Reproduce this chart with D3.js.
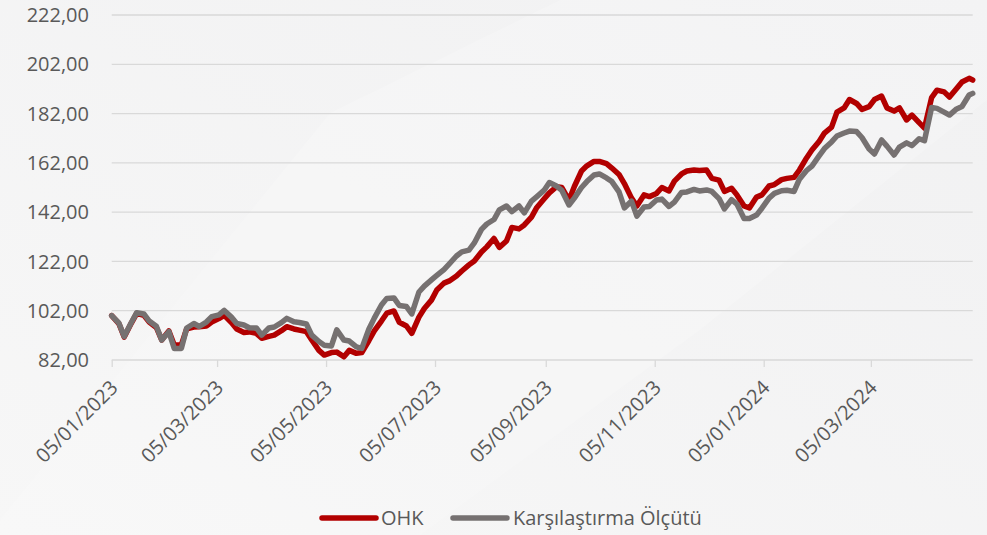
<!DOCTYPE html>
<html>
<head>
<meta charset="utf-8">
<script src="https://cdn.jsdelivr.net/npm/d3@7"></script>
<style>
    body { margin: 0; background: #f4f4f5; }
    svg { display: block; font-family: 'Open Sans', sans-serif; }
</style>
</head>
<body>
<div id="chart"></div>
<script>
// semi-weekly readings (Mon / Thu) taken off the reference chart
const dates = [
    '2023-01-05','2023-01-09','2023-01-12','2023-01-16','2023-01-19','2023-01-23','2023-01-26','2023-01-30',
    '2023-02-02','2023-02-06','2023-02-09','2023-02-13','2023-02-16','2023-02-20','2023-02-23','2023-02-27',
    '2023-03-02','2023-03-06','2023-03-09','2023-03-13','2023-03-16','2023-03-20','2023-03-23','2023-03-27',
    '2023-03-30','2023-04-03','2023-04-06','2023-04-10','2023-04-13','2023-04-17','2023-04-20','2023-04-24',
    '2023-04-27','2023-05-01','2023-05-04','2023-05-08','2023-05-11','2023-05-15','2023-05-18','2023-05-22',
    '2023-05-25','2023-05-29','2023-06-01','2023-06-05','2023-06-08','2023-06-12','2023-06-15','2023-06-19',
    '2023-06-22','2023-06-26','2023-06-29','2023-07-03','2023-07-06','2023-07-10','2023-07-13','2023-07-17',
    '2023-07-20','2023-07-24','2023-07-27','2023-07-31','2023-08-03','2023-08-07','2023-08-10','2023-08-14',
    '2023-08-17','2023-08-21','2023-08-24','2023-08-28','2023-08-31','2023-09-04','2023-09-07','2023-09-11',
    '2023-09-14','2023-09-18','2023-09-21','2023-09-25','2023-09-28','2023-10-02','2023-10-05','2023-10-09',
    '2023-10-12','2023-10-16','2023-10-19','2023-10-23','2023-10-26','2023-10-30','2023-11-02','2023-11-06',
    '2023-11-09','2023-11-13','2023-11-16','2023-11-20','2023-11-23','2023-11-27','2023-11-30','2023-12-04',
    '2023-12-07','2023-12-11','2023-12-14','2023-12-18','2023-12-21','2023-12-25','2023-12-28','2024-01-01',
    '2024-01-04','2024-01-08','2024-01-11','2024-01-15','2024-01-18','2024-01-22','2024-01-25','2024-01-29',
    '2024-02-01','2024-02-05','2024-02-08','2024-02-12','2024-02-15','2024-02-19','2024-02-22','2024-02-26',
    '2024-02-29','2024-03-04','2024-03-07','2024-03-11','2024-03-14','2024-03-18','2024-03-21','2024-03-25',
    '2024-03-28','2024-04-01','2024-04-04','2024-04-08','2024-04-11','2024-04-15','2024-04-18','2024-04-22',
    '2024-04-25','2024-04-29','2024-05-01'
];

const ohk = [
    100.0, 96.8, 91.3, 97.0, 100.9, 100.1, 97.4, 95.2,
    90.1, 93.8, 88.1, 88.1, 94.7, 95.4, 95.5, 95.8,
    97.4, 98.8, 100.1, 97.2, 94.6, 93.2, 93.4, 92.8,
    90.8, 91.6, 92.1, 93.9, 95.5, 94.6, 94.1, 93.5,
    90.1, 85.9, 84.0, 85.0, 85.2, 83.3, 85.9, 84.7,
    85.0, 89.9, 93.8, 97.8, 101.0, 101.9, 97.3, 95.8,
    92.8, 99.4, 102.9, 106.3, 110.4, 113.2, 114.1, 116.1,
    118.1, 120.6, 122.2, 125.8, 127.9, 131.3, 127.7, 130.3,
    135.8, 135.2, 136.8, 140.0, 143.9, 147.3, 149.8, 152.3,
    152.0, 146.9, 152.4, 158.7, 160.8, 162.6, 162.6, 161.7,
    159.9, 157.3, 153.6, 147.7, 144.5, 149.0, 148.3, 149.6,
    152.0, 150.6, 154.6, 157.5, 158.7, 159.1, 158.9, 159.1,
    155.7, 155.0, 150.4, 151.7, 149.0, 144.5, 143.7, 148.1,
    149.0, 152.6, 153.2, 155.2, 155.7, 156.1, 159.1, 164.0,
    167.2, 170.7, 174.1, 176.5, 182.6, 184.3, 187.7, 186.1,
    183.7, 184.8, 187.7, 189.1, 184.3, 183.0, 184.3, 179.4,
    181.4, 178.3, 176.1, 188.5, 191.5, 190.8, 188.7, 192.2,
    194.8, 196.3, 195.6
];

const benchmark = [
    100.0, 97.0, 91.5, 97.2, 101.2, 100.7, 97.8, 95.7,
    90.1, 93.5, 86.7, 86.7, 95.0, 96.8, 95.6, 97.4,
    99.6, 100.3, 102.1, 99.4, 96.8, 96.2, 95.1, 95.0,
    92.1, 95.0, 95.4, 97.2, 98.9, 97.5, 97.2, 96.6,
    92.1, 89.5, 88.0, 87.7, 94.2, 90.1, 89.7, 87.3,
    86.7, 94.6, 99.0, 104.3, 107.0, 107.2, 104.1, 103.7,
    100.7, 109.6, 112.0, 114.5, 116.3, 118.7, 121.0, 124.2,
    125.9, 126.6, 129.5, 135.0, 137.2, 139.0, 142.9, 144.5,
    142.2, 144.5, 141.7, 146.5, 148.3, 150.8, 154.0, 152.6,
    150.8, 144.9, 147.7, 152.0, 154.4, 157.1, 157.5, 155.9,
    154.4, 150.2, 143.7, 146.5, 140.4, 144.1, 144.3, 146.9,
    147.3, 144.3, 146.1, 150.0, 150.2, 151.2, 150.6, 151.0,
    150.4, 147.5, 143.3, 147.1, 145.3, 139.4, 139.4, 140.8,
    143.6, 147.7, 149.6, 150.7, 150.9, 150.4, 155.4, 158.9,
    160.7, 164.8, 167.8, 170.5, 172.9, 174.1, 174.9, 174.7,
    172.3, 167.6, 165.6, 171.3, 168.8, 165.2, 168.4, 170.1,
    169.0, 171.8, 171.0, 184.5, 184.1, 182.6, 181.4, 183.9,
    184.9, 189.5, 190.2
];

const seriesNames = ['OHK', 'Karşılaştırma Ölçütü'];
const seriesColors = ['#b20000', '#767171'];
const yTicks = [82, 102, 122, 142, 162, 182, 202, 222];
const xTicks = ['2023-01-05', '2023-03-05', '2023-05-05', '2023-07-05',
                '2023-09-05', '2023-11-05', '2024-01-05', '2024-03-05'];
const xDomain = ['2023-01-05', '2024-05-01'];

class IndexChart {

    constructor() {
        this.width = 987;
        this.height = 535;
        this.left = 111.7;
        this.right = 972.7;
        this.top = 15;
        this.bottom = 360;
        this.svg = d3.select('#chart').append('svg')
            .attr('width', this.width)
            .attr('height', this.height);
        this.parse = d3.timeParse('%Y-%m-%d');
        this.fmtDate = d3.timeFormat('%d/%m/%Y');
        this.fmtNum = d3.formatLocale({decimal: ',', thousands: '.', grouping: [3], currency: ['', '']}).format('.2f');
        this.draw();
    }

    background() {
        let defs = this.svg.append('defs');
        let grad = defs.append('linearGradient')
            .attr('id', 'bg')
            .attr('x1', '0').attr('y1', '1').attr('x2', '1').attr('y2', '0');
        grad.append('stop').attr('offset', '0').attr('stop-color', '#f7f7f7');
        grad.append('stop').attr('offset', '1').attr('stop-color', '#f1f1f2');
        this.svg.append('rect')
            .attr('width', this.width)
            .attr('height', this.height)
            .attr('fill', 'url(#bg)');
        // faint diagonal sheen
        this.svg.append('path')
            .attr('d', 'M0,520 L330,113 L560,0 L987,0 L987,100 L700,330 L420,535 L0,535 Z')
            .attr('fill', '#ffffff')
            .attr('opacity', 0.18);
    }

    draw() {
        let self = this;
        self.background();

        let x = d3.scaleTime()
            .domain(xDomain.map(self.parse))
            .range([self.left, self.right]);
        let y = d3.scaleLinear()
            .domain([82, 222])
            .range([self.bottom, self.top]);

        // horizontal grid
        self.svg.append('g')
            .selectAll('line')
            .data(yTicks)
            .enter()
            .append('line')
            .attr('x1', self.left)
            .attr('x2', self.right)
            .attr('y1', d => y(d))
            .attr('y2', d => y(d))
            .attr('stroke', '#d9d9d9')
            .attr('stroke-width', 1.3);

        // y labels
        self.svg.append('g')
            .selectAll('text')
            .data(yTicks)
            .enter()
            .append('text')
            .attr('x', 89)
            .attr('y', d => y(d))
            .attr('dy', '0.36em')
            .attr('text-anchor', 'end')
            .style('font-size', '20px')
            .style('fill', '#595959')
            .text(d => self.fmtNum(d));

        // x axis ticks and labels
        let xAxis = d3.axisBottom(x)
            .tickValues(xTicks.map(self.parse))
            .tickSize(7)
            .tickFormat(self.fmtDate);
        let gx = self.svg.append('g')
            .attr('transform', `translate(0, ${self.bottom})`)
            .call(xAxis);
        gx.select('.domain').remove();
        gx.selectAll('.tick line')
            .attr('stroke', '#d9d9d9')
            .attr('stroke-width', 1.3);
        gx.selectAll('.tick text')
            .attr('y', 0)
            .attr('dy', 0)
            .attr('text-anchor', 'end')
            .attr('transform', 'translate(7, 29) rotate(-45)')
            .style('font-size', '20px')
            .style('font-family', "'Open Sans', sans-serif")
            .style('fill', '#595959');

        // series lines, benchmark drawn on top
        let line = d3.line()
            .x((d, i) => x(self.parse(dates[i])))
            .y(d => y(d));
        [ohk, benchmark].forEach((values, i) => {
            self.svg.append('path')
                .datum(values)
                .attr('d', line)
                .attr('fill', 'none')
                .attr('stroke', seriesColors[i])
                .attr('stroke-width', 5.5)
                .attr('stroke-linejoin', 'round')
                .attr('stroke-linecap', 'round');
        });

        // legend
        let legendX = [322, 453];
        let legend = self.svg.append('g')
            .selectAll('g')
            .data(seriesNames)
            .enter()
            .append('g')
            .attr('transform', (d, i) => `translate(${legendX[i]}, 518)`);
        legend.append('line')
            .attr('x1', 0)
            .attr('x2', 54)
            .attr('stroke', (d, i) => seriesColors[i])
            .attr('stroke-width', 5.5)
            .attr('stroke-linecap', 'round');
        legend.append('text')
            .attr('x', (d, i) => i === 0 ? 59 : 60)
            .attr('dy', '0.36em')
            .style('font-size', '20px')
            .style('fill', '#595959')
            .text(d => d);
    }
}

new IndexChart();
</script>
</body>
</html>
